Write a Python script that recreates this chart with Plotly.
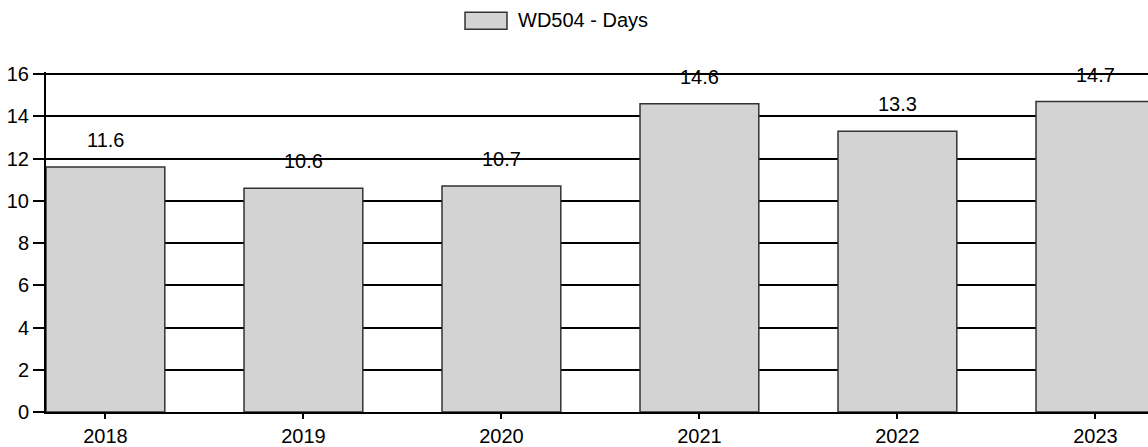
import plotly.graph_objects as go

years = ["2018", "2019", "2020", "2021", "2022", "2023"]
days = [11.6, 10.6, 10.7, 14.6, 13.3, 14.7]
series_name = "WD504 - Days"
y_ticks = [0, 2, 4, 6, 8, 10, 12, 14, 16]

FONT = "Arial, Liberation Sans, sans-serif"

fig = go.Figure()
fig.add_trace(go.Bar(
    x=years, y=days, name=series_name, width=0.6,
    marker=dict(color="#d3d3d3", line=dict(color="#333333", width=1.5)),
    showlegend=False,
))

annotations = []
for i, v in enumerate(days):
    annotations.append(dict(
        x=i, y=v, xref="x", yref="y", text=f"{v}", showarrow=False,
        yshift=27, yanchor="middle", font=dict(family=FONT, size=20, color="black"),
    ))
# legend
annotations.append(dict(
    x=(516 - 46) / 1102, y=1.0, xref="paper", yref="paper", yshift=52, text=series_name,
    showarrow=False, xanchor="left", yanchor="middle",
    font=dict(family=FONT, size=20, color="black"),
))

fig.update_layout(
    width=1148, height=447,
    margin=dict(l=46, r=0, t=72, b=33),
    paper_bgcolor="white", plot_bgcolor="white",
    font=dict(family=FONT, size=20, color="black"),
    annotations=annotations,
    shapes=[dict(type="rect", xref="paper", yref="paper",
                 x0=(465 - 46) / 1102, x1=(507 - 46) / 1102,
                 y0=(414 - 29) / 342, y1=(414 - 12) / 342,
                 fillcolor="#d3d3d3", line=dict(color="#333333", width=1.5))],
    xaxis=dict(
        type="category", range=[-0.3, -0.3 + 1102 / 198],
        showgrid=False, showline=True, linecolor="black", linewidth=2,
        ticks="outside", ticklen=5, tickwidth=2, tickcolor="black",
        tickfont=dict(size=20), zeroline=False,
    ),
    yaxis=dict(
        range=[0, 16.1], tickvals=y_ticks,
        showgrid=True, gridcolor="black", gridwidth=2,
        showline=True, linecolor="black", linewidth=2,
        ticks="outside", ticklen=11, tickwidth=2, tickcolor="black",
        tickfont=dict(size=20), zeroline=False,
    ),
)

fig.write_html("out.html", config={"displayModeBar": False},
               post_script="document.body.style.margin='0';document.body.style.overflow='hidden';")
